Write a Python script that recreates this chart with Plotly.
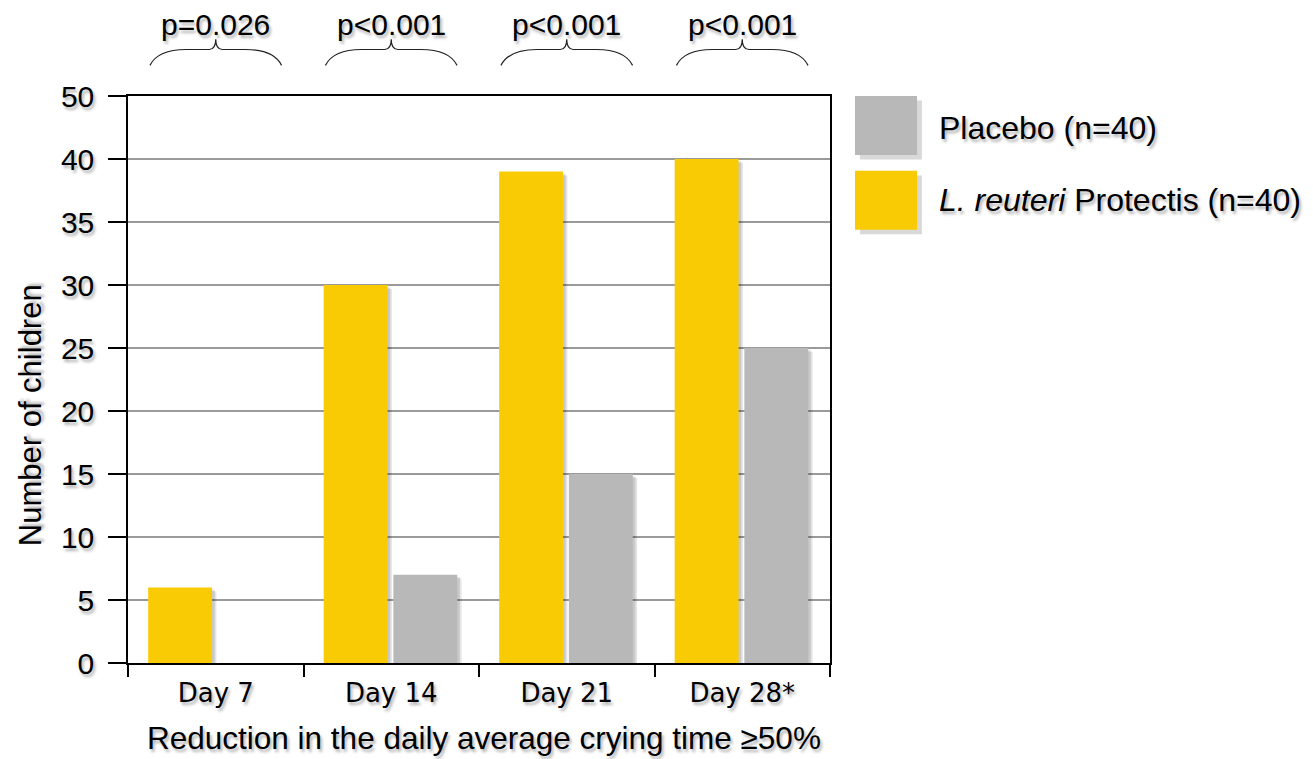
import plotly.graph_objects as go

# ---- data ----
categories = ["Day 7", "Day 14", "Day 21", "Day 28*"]
reuteri = [6, 30, 39, 40]
placebo = [0, 7, 15, 25]
p_values = ["p=0.026", "p<0.001", "p<0.001", "p<0.001"]
y_tick_vals = [0, 5, 10, 15, 20, 25, 30, 35, 40, 45]
y_tick_text = ["0", "5", "10", "15", "20", "25", "30", "35", "40", "50"]
legend_names = ["Placebo (n=40)", "<i>L. reuteri</i> Protectis (n=40)"]
x_title = "Reduction in the daily average crying time ≥50%"
y_title = "Number of children"

YELLOW = "#F9CB05"
GRAY = "#B8B8B8"
FONT = "Liberation Sans, Arial, sans-serif"
TICKFONT = "DejaVu Sans, Verdana, sans-serif"
TSHADOW = "2px 3px 3px rgba(0,0,0,0.3)"

BAR_W = 0.364
OFF_Y = -0.385
OFF_G = 0.012
SH_DX = 0.025
SH_BASE = -0.3

fig = go.Figure()

# soft drop shadows behind bars
for vals, off in ((reuteri, OFF_Y), (placebo, OFF_G)):
    for k, a in ((1.0, 0.10), (0.6, 0.12)):
        fig.add_trace(go.Bar(
            x=categories, y=[v if v > 0 else 0 for v in vals],
            base=SH_BASE * k, offset=off + SH_DX * k, width=BAR_W,
            marker=dict(color=f"rgba(0,0,0,{a})", line=dict(width=0)),
            showlegend=False, hoverinfo="skip"))

fig.add_trace(go.Bar(x=categories, y=reuteri, offset=OFF_Y, width=BAR_W,
                     marker=dict(color=YELLOW, line=dict(width=0)),
                     name=legend_names[1], showlegend=False))
fig.add_trace(go.Bar(x=categories, y=placebo, offset=OFF_G, width=BAR_W,
                     marker=dict(color=GRAY, line=dict(width=0)),
                     name=legend_names[0], showlegend=False))

shapes = []
annotations = []

# p-value braces
n = len(categories)
for i, p in enumerate(p_values):
    c = (i + 0.5) / n
    h = 0.375 / n
    x0, x1 = c - h, c + h
    y0, y1, y2 = 1.054, 1.082, 1.100
    path = (f"M {x0},{y0} Q {x0 + 0.12*h},{y1} {x0 + 0.55*h},{y1} "
            f"L {c - 0.1*h},{y1} Q {c},{y1} {c},{y2} "
            f"Q {c},{y1} {c + 0.1*h},{y1} L {x1 - 0.55*h},{y1} "
            f"Q {x1 - 0.12*h},{y1} {x1},{y0}")
    shapes.append(dict(type="path", xref="paper", yref="paper", path=path,
                       line=dict(color="#222", width=1.2)))
    annotations.append(dict(x=c, y=1.126, xref="paper", yref="paper", text=p,
                            showarrow=False, xanchor="center", yanchor="middle",
                            font=dict(size=30, color="black", family=FONT, shadow=TSHADOW)))

# legend (custom large swatches)
leg = [(GRAY, legend_names[0], 1.0, 0.896, 0.9436),
       (YELLOW, legend_names[1], 0.868, 0.764, 0.8166)]
for col, txt, yt, yb, yc in leg:
    shapes.append(dict(type="rect", xref="paper", yref="paper",
                       x0=1.0356 + 0.007, x1=1.124 + 0.007, y0=yb - 0.008, y1=yt - 0.008,
                       fillcolor="rgba(0,0,0,0.15)", line=dict(width=0)))
    shapes.append(dict(type="rect", xref="paper", yref="paper",
                       x0=1.0356, x1=1.124, y0=yb, y1=yt,
                       fillcolor=col, line=dict(width=0)))
    annotations.append(dict(x=1.1524, y=yc, xref="paper", yref="paper", text=txt,
                            showarrow=False, xanchor="left", yanchor="middle",
                            font=dict(size=32, color="black", family=FONT, shadow=TSHADOW)))

# axis titles
annotations.append(dict(x=0.507, y=-0.133, xref="paper", yref="paper", text=x_title,
                        showarrow=False, xanchor="center", yanchor="middle",
                        font=dict(size=31.5, color="black", family=FONT, shadow=TSHADOW)))
annotations.append(dict(x=-0.1396, y=0.437, xref="paper", yref="paper", text=y_title,
                        showarrow=False, xanchor="center", yanchor="middle", textangle=-90,
                        font=dict(size=31, color="black", family=FONT, shadow=TSHADOW)))

fig.update_layout(
    width=1305, height=751,
    margin=dict(l=120, r=483, t=88, b=96),
    paper_bgcolor="white", plot_bgcolor="white",
    barmode="overlay",
    font=dict(family=FONT, color="black", size=28, shadow=TSHADOW),
    shapes=shapes, annotations=annotations,
    showlegend=False,
)
fig.update_xaxes(
    type="category", range=[-0.5, 3.5],
    showline=True, linecolor="black", linewidth=1.5, mirror=True,
    showgrid=False, ticks="outside", tickson="boundaries", ticklen=12,
    tickcolor="black", tickwidth=1.5, ticklabelstandoff=6,
    tickfont=dict(size=26, family=TICKFONT, shadow=TSHADOW),
)
fig.update_yaxes(
    range=[0, 45], tickvals=y_tick_vals, ticktext=y_tick_text,
    showline=True, linecolor="black", linewidth=1.5, mirror=True,
    showgrid=True, gridcolor="#9a9a9a", gridwidth=1.5,
    ticks="outside", ticklen=18, tickcolor="black", tickwidth=1.5,
    ticklabelstandoff=8, zeroline=False,
    tickfont=dict(size=30, family=FONT, shadow=TSHADOW),
)

fig.write_html("out.html")
